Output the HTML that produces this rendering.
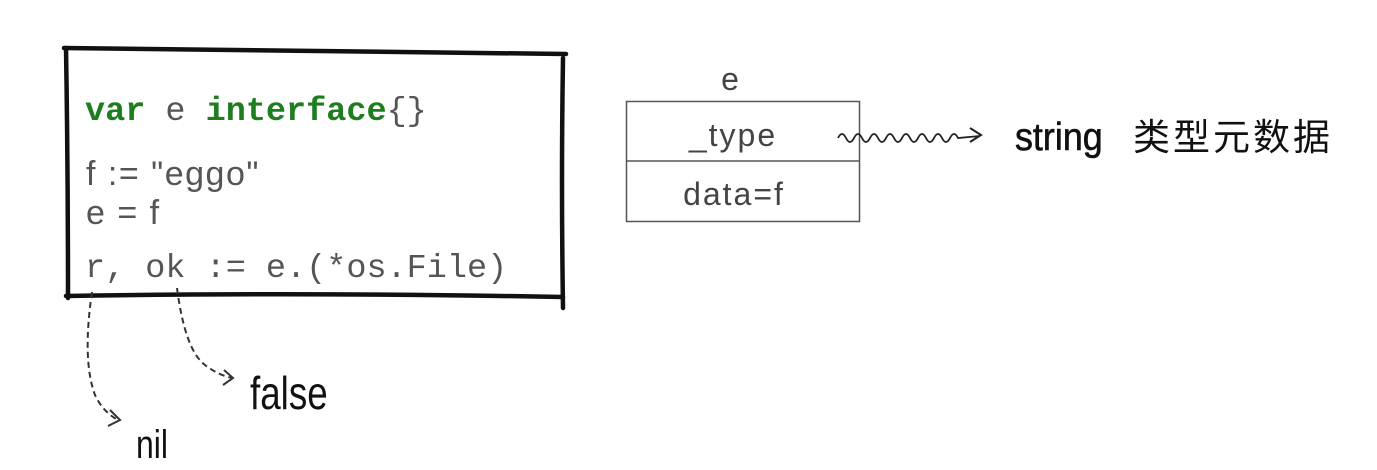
<!DOCTYPE html>
<html><head><meta charset="utf-8"><style>
html,body{margin:0;padding:0;background:#fff;}
svg{display:block}
</style></head><body>
<svg width="1377" height="470" viewBox="0 0 1377 470" xmlns="http://www.w3.org/2000/svg">
<g stroke="#111" stroke-width="4.5" fill="none" stroke-linecap="round">
<path d="M64 48 Q300 50 566 54"/>
<path d="M66 48 Q68 170 68 298"/>
<path d="M66 296 Q300 292 563 297"/>
<path d="M563 58 Q561 180 563 308"/>
</g>
<g font-family="Liberation Mono, monospace" font-size="33.5" fill="#555">
<text x="85" y="120"><tspan fill="#1e7d1e" font-weight="bold">var</tspan> e <tspan fill="#1e7d1e" font-weight="bold">interface</tspan>{}</text>
<text x="85" y="277">r, ok := e.(*os.File)</text>
</g>
<g font-family="Liberation Sans, sans-serif" font-size="34" fill="#555" letter-spacing="1.5">
<text x="86" y="185">f := "eggo"</text>
<text x="86" y="224">e = f</text>
</g>
<g stroke="#333" stroke-width="2" fill="none" stroke-dasharray="6,4">
<path d="M92 292 Q82 360 95 395 Q103 412 118 420"/>
<path d="M177 288 Q185 350 205 365 Q218 375 232 378"/>
</g>
<g stroke="#333" stroke-width="2" fill="none">
<path d="M110 410 L120 420 L108 426"/>
<path d="M224 370 L233 378 L223 385"/>
</g>
<g font-family="Liberation Sans Narrow, Liberation Sans, sans-serif" fill="#111">
<text x="250" y="409" font-size="46" transform="translate(250 0) scale(0.8 1) translate(-250 0)">false</text>
<text x="136" y="458" font-size="40" transform="translate(136 0) scale(0.8 1) translate(-136 0)">nil</text>
</g>
<rect x="626.5" y="101.5" width="233" height="120" fill="none" stroke="#555" stroke-width="1.5"/>
<line x1="626" y1="161" x2="860" y2="161" stroke="#555" stroke-width="1.5"/>
<g font-family="Liberation Sans, sans-serif" font-size="32" fill="#444" text-anchor="middle" letter-spacing="2">
<text x="731" y="90">e</text>
<text x="733" y="146">_type</text>
<text x="734" y="205">data=f</text>
</g>
<path d="M838 138 q4 -8 8 0 q4 8 8 0 q4 -8 8 0 q4 8 8 0 q4 -8 8 0 q4 8 8 0 q4 -8 8 0 q4 8 8 0 q4 -8 8 0 q4 8 8 0 q4 -8 8 0 q4 8 8 0 q4 -8 8 0 q4 8 8 0 q4 -8 8 0 L980 136" stroke="#222" stroke-width="1.8" fill="none"/>
<path d="M970 128 L981 135 L970 142" stroke="#222" stroke-width="2" fill="none"/>
<text x="1015" y="150" font-family="Liberation Sans, sans-serif" font-size="39" fill="#111" stroke="#111" stroke-width="0.6" transform="translate(1015 0) scale(0.92 1) translate(-1015 0)">string</text>
<text x="1133" y="150" font-family="Noto Sans CJK SC, sans-serif" font-size="37" fill="#111" letter-spacing="3">类型元数据</text>
</svg>
</body></html>
